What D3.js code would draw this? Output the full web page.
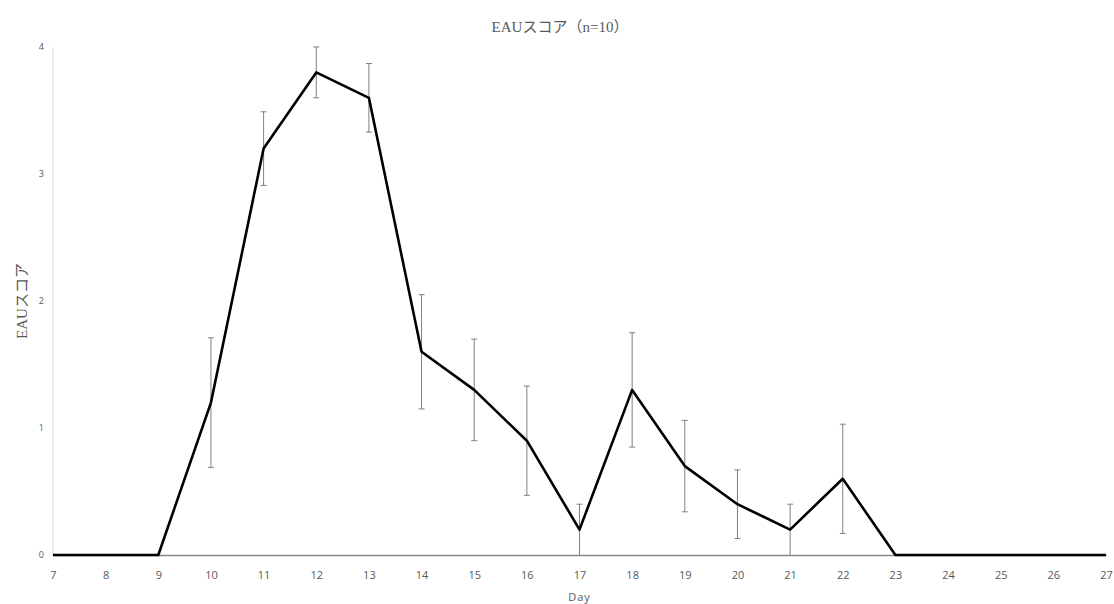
<!DOCTYPE html>
<html>
<head>
<meta charset="utf-8">
<script src="https://cdn.jsdelivr.net/npm/d3@7"></script>
<style>
  html, body { margin: 0; padding: 0; background: #fff; }
  svg { display: block; }
</style>
</head>
<body>
<svg id="chart" width="1114" height="604"></svg>
<script>
// EAU score by day: mean and standard deviation (n=10)
const days = [7, 8, 9, 10, 11, 12, 13, 14, 15, 16, 17, 18, 19, 20, 21, 22, 23, 24, 25, 26, 27];
const meanScore = [0, 0, 0, 1.2, 3.2, 3.8, 3.6, 1.6, 1.3, 0.9, 0.2, 1.3, 0.7, 0.4, 0.2, 0.6, 0, 0, 0, 0, 0];
const sdScore = [0, 0, 0, 0.51, 0.29, 0.2, 0.27, 0.45, 0.4, 0.43, 0.2, 0.45, 0.36, 0.27, 0.2, 0.43, 0, 0, 0, 0, 0];
const yTicks = [0, 1, 2, 3, 4];

const titleText = "EAUスコア（n=10）";
const yTitle = "EAUスコア";
const xTitle = "Day";

const svg = d3.select("#chart");
const margin = { left: 53, right: 8, top: 47, bottom: 49 };
const W = 1114, H = 604;

const x = d3.scaleLinear().domain([7, 27]).range([margin.left, W - margin.right]);
const y = d3.scaleLinear().domain([0, 4]).range([H - margin.bottom, margin.top]);

const serif = "'Liberation Serif', 'Noto Sans CJK JP', serif";
const sans = "'Open Sans', 'Noto Sans', sans-serif";

// Title
svg.append("text")
  .attr("x", W / 2 + 3).attr("y", 32)
  .attr("text-anchor", "middle")
  .attr("font-family", serif).attr("font-size", 15)
  .attr("fill", "#595959")
  .text(titleText);

// Vertical axis line
svg.append("line")
  .attr("x1", x(7)).attr("x2", x(7))
  .attr("y1", y(4)).attr("y2", y(0))
  .attr("stroke", "#d9d9d9").attr("stroke-width", 1);

// Y tick labels
const yAxis = d3.axisLeft(y).tickValues(yTicks).tickSize(0).tickPadding(9).tickFormat(d3.format("d"));
const gy = svg.append("g").attr("transform", `translate(${x(7)},0)`).call(yAxis);
gy.select(".domain").remove();
gy.selectAll("text")
  .attr("font-family", sans).attr("font-size", 9).attr("fill", "#595959");

// X axis
const xAxis = d3.axisBottom(x).tickValues(days).tickSize(0).tickPadding(16).tickFormat(d3.format("d"));
const gx = svg.append("g").attr("transform", `translate(0,${y(0)})`).call(xAxis);
gx.select(".domain").attr("stroke", "#868686").attr("stroke-width", 1.5);
gx.selectAll("text")
  .attr("font-family", sans).attr("font-size", 11).attr("fill", "#595959");

// Axis titles
svg.append("text")
  .attr("x", (x(7) + x(27)) / 2).attr("y", 601)
  .attr("text-anchor", "middle")
  .attr("font-family", sans).attr("font-size", 11).attr("fill", "#595959")
  .attr("letter-spacing", 1)
  .text(xTitle);

svg.append("text")
  .attr("transform", `translate(27,${(y(0) + y(4)) / 2}) rotate(-90)`)
  .attr("text-anchor", "middle")
  .attr("font-family", serif).attr("font-size", 15).attr("fill", "#595959")
  .text(yTitle);

// Error bars
const pts = days.map((d, i) => ({ day: d, m: meanScore[i], sd: sdScore[i] }));
const eb = svg.append("g").attr("stroke", "#808080").attr("stroke-width", 1)
  .selectAll("g").data(pts.filter(p => p.sd > 0)).join("g");
eb.append("line")
  .attr("x1", p => x(p.day)).attr("x2", p => x(p.day))
  .attr("y1", p => y(p.m + p.sd)).attr("y2", p => y(Math.max(0, p.m - p.sd)));
eb.append("line")
  .attr("x1", p => x(p.day) - 3).attr("x2", p => x(p.day) + 3)
  .attr("y1", p => y(p.m + p.sd)).attr("y2", p => y(p.m + p.sd));
eb.filter(p => p.m - p.sd > 0.01).append("line")
  .attr("x1", p => x(p.day) - 3).attr("x2", p => x(p.day) + 3)
  .attr("y1", p => y(p.m - p.sd)).attr("y2", p => y(p.m - p.sd));

// Mean line
svg.append("path")
  .datum(pts)
  .attr("fill", "none")
  .attr("stroke", "#000")
  .attr("stroke-width", 2.6)
  .attr("stroke-linejoin", "round")
  .attr("d", d3.line().x(p => x(p.day)).y(p => y(p.m)));
</script>
</body>
</html>
